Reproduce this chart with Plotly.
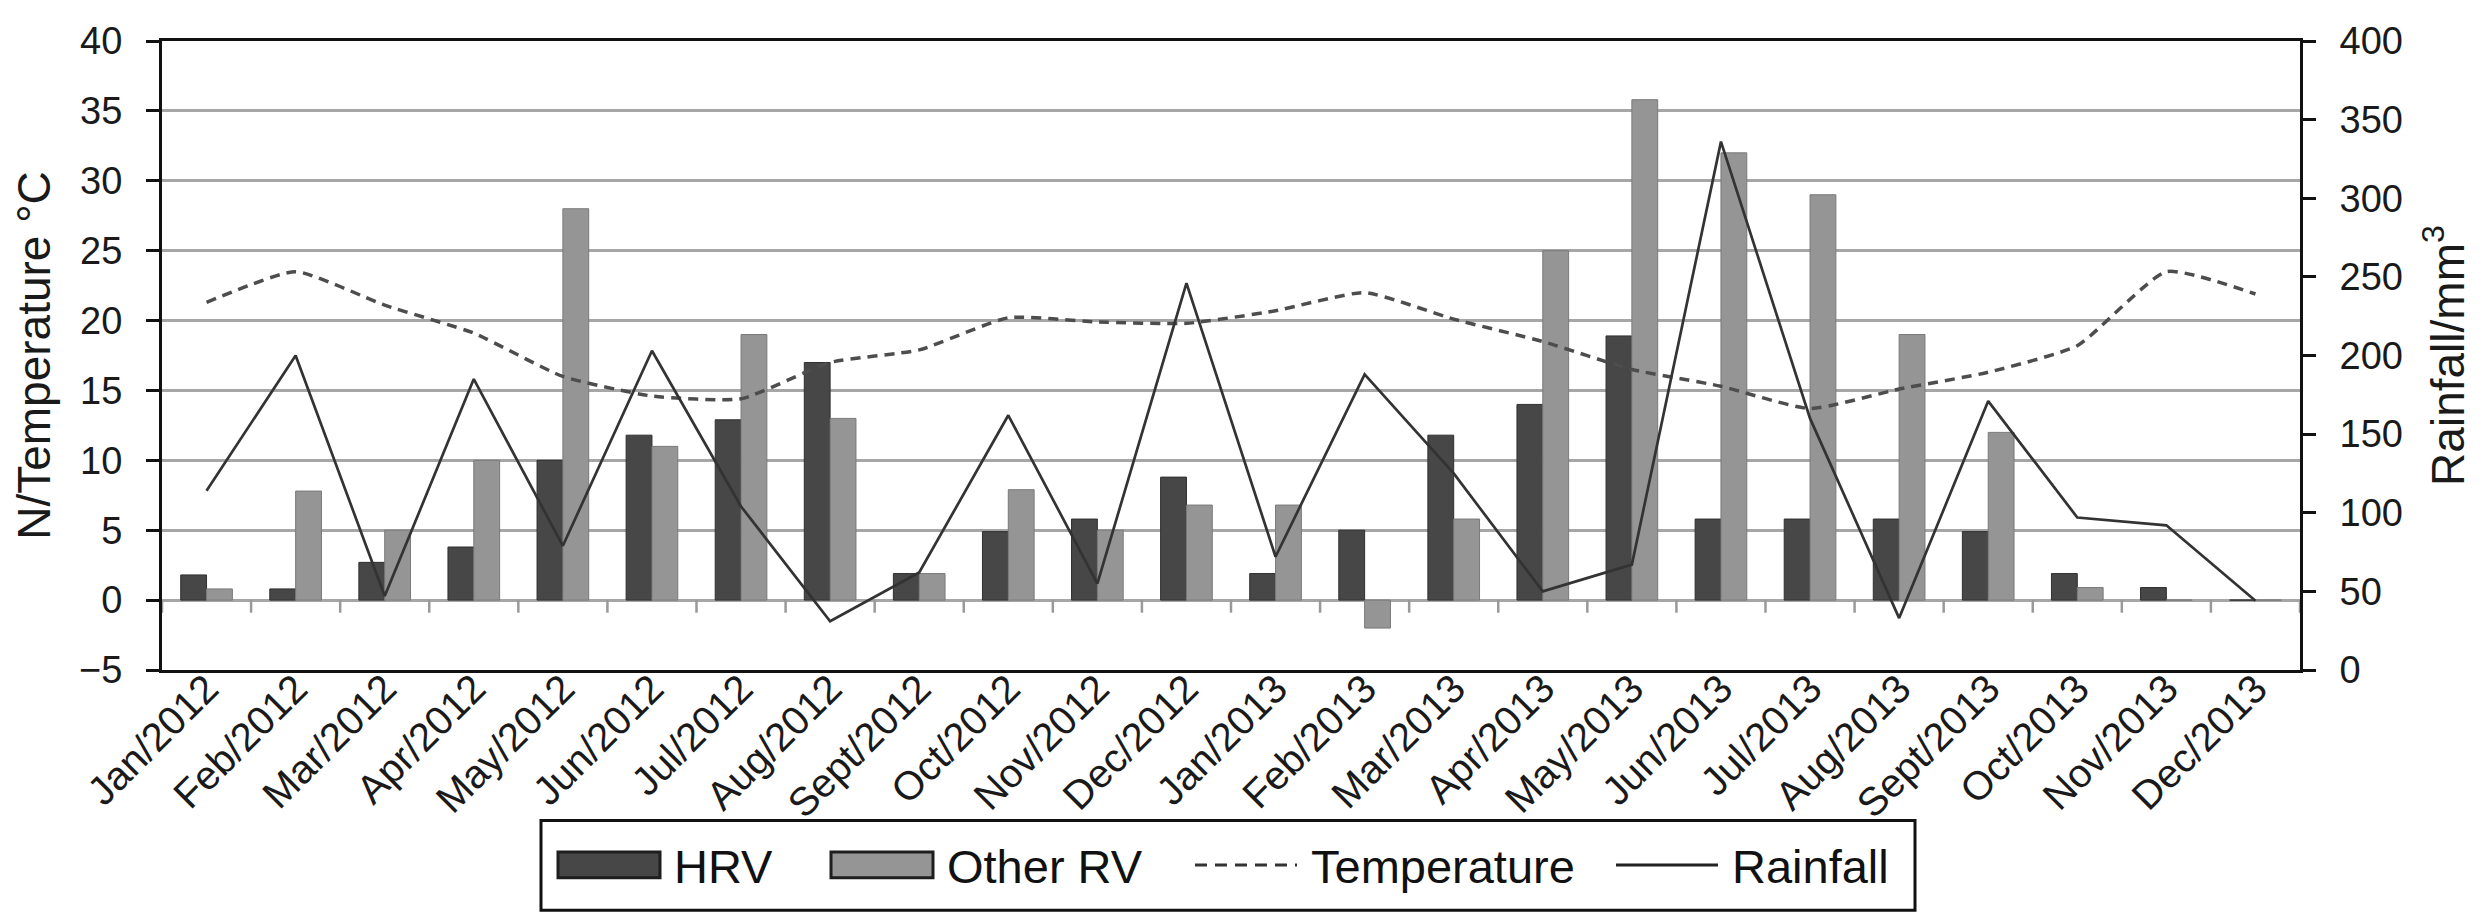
import plotly.graph_objects as go

months = ["Jan/2012", "Feb/2012", "Mar/2012", "Apr/2012", "May/2012", "Jun/2012",
          "Jul/2012", "Aug/2012", "Sept/2012", "Oct/2012", "Nov/2012", "Dec/2012",
          "Jan/2013", "Feb/2013", "Mar/2013", "Apr/2013", "May/2013", "Jun/2013",
          "Jul/2013", "Aug/2013", "Sept/2013", "Oct/2013", "Nov/2013", "Dec/2013"]

hrv = [1.8, 0.8, 2.7, 3.8, 10, 11.8, 12.9, 17, 1.9, 4.9, 5.8, 8.8,
       1.9, 5, 11.8, 14, 18.9, 5.8, 5.8, 5.8, 4.9, 1.9, 0.9, 0]
other_rv = [0.8, 7.8, 5, 10, 28, 11, 19, 13, 1.9, 7.9, 5, 6.8,
            6.8, -2, 5.8, 25, 35.8, 32, 29, 19, 12, 0.9, 0, 0]
temperature = [21.3, 23.5, 21.1, 19.1, 16.0, 14.6, 14.4, 17.0, 17.9, 20.2, 19.9, 19.8,
               20.7, 22.0, 20.1, 18.5, 16.5, 15.3, 13.7, 15.1, 16.3, 18.2, 23.5, 21.9]
rainfall = [114, 200, 47, 185, 79, 203, 104, 31, 62, 162, 55, 246,
            72, 188, 125, 50, 67, 336, 160, 33, 171, 97, 92, 44]

FONT = "Liberation Sans, Arial, Helvetica, sans-serif"
W, H = 2490, 913
ML, MR, MT, MB = 154, 198, 23, 251
PW, PH = W - ML - MR, H - MT - MB

HRV_COL = "#474747"
ORV_COL = "#959595"


def px_x(p):
    return (p - ML) / PW


def px_y(p):
    return (H - MB - p) / PH


fig = go.Figure()
fig.add_trace(go.Bar(x=months, y=hrv, name="HRV", showlegend=False,
                     marker=dict(color=HRV_COL, line=dict(color="#303030", width=1))))
fig.add_trace(go.Bar(x=months, y=other_rv, name="Other RV", showlegend=False,
                     marker=dict(color=ORV_COL, line=dict(color="#7a7a7a", width=1))))
fig.add_trace(go.Scatter(x=months, y=temperature, name="Temperature", mode="lines",
                         showlegend=False,
                         line=dict(color="#4d4d4d", width=3.5, dash="10px,7px",
                                   shape="spline", smoothing=0.5)))
fig.add_trace(go.Scatter(x=months, y=rainfall, name="Rainfall", mode="lines", yaxis="y2",
                         showlegend=False, line=dict(color="#333333", width=2.7)))

# small category ticks hanging below the zero line (Excel axis crossing at 0)
shapes = []
for i in range(len(months) + 1):
    shapes.append(dict(type="line", xref="x", yref="y", x0=i - 0.5, x1=i - 0.5,
                       y0=0, y1=-0.9, line=dict(color="#999999", width=2.5)))

# legend box drawn by hand so the swatches can be wide like the original
shapes.append(dict(type="rect", xref="paper", yref="paper",
                   x0=px_x(533), x1=px_x(1907), y0=px_y(906), y1=px_y(815),
                   line=dict(color="#111111", width=3), fillcolor="white"))
legend_items = [("HRV", "box", HRV_COL, 550),
                ("Other RV", "box", ORV_COL, 823),
                ("Temperature", "dash", "#333333", 1187),
                ("Rainfall", "line", "#222222", 1608)]
annotations = []
ymid = 860
for name, kind, col, x0 in legend_items:
    x1 = x0 + 102
    if kind == "box":
        shapes.append(dict(type="rect", xref="paper", yref="paper",
                           x0=px_x(x0), x1=px_x(x1), y0=px_y(ymid + 13), y1=px_y(ymid - 13),
                           fillcolor=col, line=dict(color="#1e1e1e", width=3)))
    else:
        shapes.append(dict(type="line", xref="paper", yref="paper",
                           x0=px_x(x0), x1=px_x(x1), y0=px_y(ymid), y1=px_y(ymid),
                           line=dict(color=col, width=3,
                                     dash="12px,8px" if kind == "dash" else "solid")))
    annotations.append(dict(text=name, xref="paper", yref="paper", x=px_x(x1 + 12),
                            y=px_y(ymid + 2), xanchor="left", yanchor="middle",
                            showarrow=False, font=dict(size=47, color="#111111")))

fig.update_layout(
    width=W, height=H,
    margin=dict(l=ML, r=MR, t=MT, b=MB),
    paper_bgcolor="white", plot_bgcolor="white",
    font=dict(family=FONT, size=38, color="#1a1a1a"),
    barmode="group", bargap=0.42, bargroupgap=0,
    shapes=shapes, annotations=annotations,
    showlegend=False,
    xaxis=dict(type="category", tickangle=-45, ticks="", showline=True,
               linecolor="#111111", linewidth=3, mirror=True, showgrid=False,
               tickfont=dict(size=40), ticklabelstandoff=-24,
               range=[-0.5, len(months) - 0.5]),
    yaxis=dict(range=[-5, 40], dtick=5, ticks="outside", ticklen=13, tickwidth=3,
               tickcolor="#111111", showline=True, linecolor="#111111", linewidth=3,
               gridcolor="#a6a6a6", gridwidth=3, zeroline=False, ticklabelstandoff=16,
               title=dict(text="N/Temperature °C", font=dict(size=46), standoff=14)),
    yaxis2=dict(range=[0, 400], dtick=50, overlaying="y", side="right",
                ticks="outside", ticklen=13, tickwidth=3, tickcolor="#111111",
                showline=True, linecolor="#111111", linewidth=3, showgrid=False,
                zeroline=False, ticklabelstandoff=16,
                title=dict(text="Rainfall/mm<sup>3</sup>", font=dict(size=46), standoff=30)),
)

fig.write_html("out.html")
